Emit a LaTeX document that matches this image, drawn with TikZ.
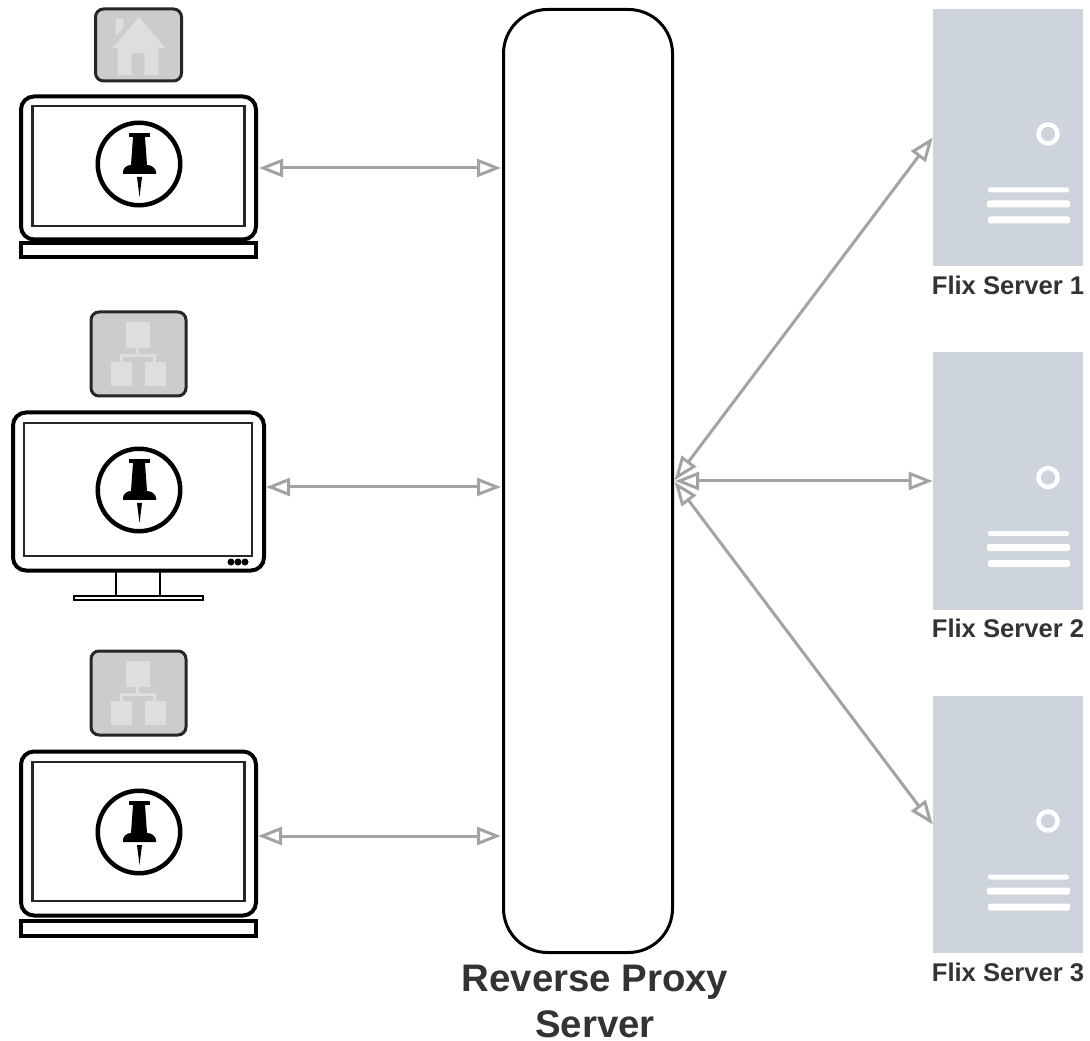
\documentclass[tikz,border=0pt]{standalone}
\usepackage{fontspec}
\setmainfont{Liberation Sans}
\usetikzlibrary{arrows.meta}
\definecolor{linkgray}{HTML}{A3A3A3}
\definecolor{badgegray}{HTML}{CCCCCC}
\definecolor{glyphgray}{HTML}{DEDEDE}
\definecolor{servergray}{HTML}{CED4DB}
\definecolor{labelgray}{HTML}{333333}
\def\px{0.75pt}
\tikzset{
  frame/.style={draw=black, fill=white, line width=4*\px, rounded corners=13*\px, inner sep=0pt},
  screen/.style={draw=black!85, line width=2.5*\px, inner sep=0pt},
  keyboard/.style={draw=black, fill=white, line width=3.5*\px, inner sep=0pt},
  badge/.style={draw=black!85, fill=badgegray, line width=3*\px, rounded corners=8*\px, inner sep=0pt},
  dial/.style={draw=black, fill=white, circle, line width=4.5*\px, minimum size=82.5*\px, inner sep=0pt},
  proxybox/.style={draw=black, fill=white, line width=3*\px, rounded corners=44*\px, minimum width=169*\px, minimum height=943*\px, inner sep=0pt},
  serverbox/.style={fill=servergray, minimum width=150*\px, minimum height=257*\px, inner sep=0pt},
  servername/.style={text=labelgray, font=\fontsize{19.2}{23}\selectfont\bfseries, inner sep=0pt},
  link/.style={draw=linkgray, line width=3*\px, {Triangle[open,length=18pt,width=13.5pt]}-{Triangle[open,length=18pt,width=13.5pt]}},
  pics/pinicon/.style={code={
    \fill (-10,-31) rectangle (11,-27);
    \fill (-6,-27) -- (6,-27) -- (8,1) -- (-8,1) -- cycle;
    \fill (-16,10) -- (-16,8) .. controls (-16,4) and (-12,1) .. (-8,1) -- (8,1) .. controls (12,1) and (17,4) .. (17,8) -- (17,10) -- cycle;
    \fill (-2,13) -- (3,13) -- (0.5,33) -- cycle;
  }},
  pics/homeicon/.style={code={
    \fill[glyphgray] (-23,-26) -- (-15,-26) -- (-15,-17) -- (-23,-9) -- cycle;
    \fill[glyphgray] (0.5,-28) -- (27,3) -- (20,3) -- (20,30) -- (6,30) -- (6,8) -- (-7,8) -- (-7,30) -- (-21,30) -- (-21,3) -- (-26,3) -- cycle;
  }},
  pics/treeicon/.style={code={
    \fill[glyphgray] (-13,-32) rectangle (11,-6);
    \fill[glyphgray] (-28,8) rectangle (-7,32);
    \fill[glyphgray] (6,8) rectangle (27,32);
    \draw[glyphgray, line width=3*\px] (-1,-6) -- (-1,1) (-17,8) -- (-17,1.5) -- (16,1.5) -- (16,8);
  }},
}
\begin{document}
\begin{tikzpicture}[x=0.75pt, y=-0.75pt]
  \useasboundingbox (0,0) rectangle (1090,1041);

  % top laptop
  \node[badge, minimum width=86*\px, minimum height=72*\px] (tag1) at (138.5,45) {};
  \pic at (tag1.center) {homeicon};
  \node[frame, minimum width=235*\px, minimum height=143*\px] (lap1) at (138.5,168) {};
  \node[screen, minimum width=212*\px, minimum height=120*\px] (scr1) at (138.5,166) {};
  \node[keyboard, minimum width=235*\px, minimum height=14*\px] (key1) at (138.5,250) {};
  \node[dial] (pin1) at (139,164) {};
  \pic at (pin1.center) {pinicon};

  % monitor
  \node[badge, minimum width=95*\px, minimum height=84*\px] (tag2) at (138.5,354) {};
  \pic at (tag2.center) {treeicon};
  \node[keyboard, line width=2*\px, minimum width=129*\px, minimum height=4*\px] (foot2) at (138.5,597.5) {};
  \draw[line width=1.5*\px] (116,571) -- (116,596) (160,571) -- (160,596);
  \node[frame, minimum width=251*\px, minimum height=158*\px] (mon2) at (138.5,491.5) {};
  \node[screen, minimum width=228*\px, minimum height=133*\px] (scr2) at (138,489.5) {};
  \foreach \dotx in {231,238,245}
    \fill (\dotx,562) circle (3.5);
  \node[dial] (pin2) at (139,490) {};
  \pic at (pin2.center) {pinicon};

  % bottom laptop
  \node[badge, minimum width=95*\px, minimum height=84*\px] (tag3) at (138.5,693) {};
  \pic at (tag3.center) {treeicon};
  \node[frame, minimum width=235*\px, minimum height=164*\px] (lap3) at (138.5,833.5) {};
  \node[screen, minimum width=212*\px, minimum height=139*\px] (scr3) at (138.5,831.5) {};
  \node[keyboard, minimum width=235*\px, minimum height=15*\px] (key3) at (138.5,928.5) {};
  \node[dial] (pin3) at (139,832) {};
  \pic at (pin3.center) {pinicon};

  % proxy
  \node[proxybox] (proxy) at (588,481) {};
  \node[text=labelgray, font=\fontsize{28.8}{34.5}\selectfont\bfseries, align=center, inner sep=0pt] (proxyname) at (595,1001) {Reverse Proxy\\Server};

  % servers
  \foreach \n/\ypos in {1/137.5, 2/481, 3/824.5} {
    \node[serverbox] (srv\n) at (1008,\ypos) {};
    \node[servername, below=6.75pt] (name\n) at (srv\n.south) {Flix Server \n};
    \draw[white, line width=4.5*\px] (1048,\ypos-3.5) circle (9.5);
    \fill[white, rounded corners=1.5] (988,\ypos+50) rectangle (1069,\ypos+55);
    \fill[white, rounded corners=1.5] (987,\ypos+63) rectangle (1070,\ypos+70);
    \fill[white, rounded corners=1.5] (988,\ypos+79) rectangle (1070,\ypos+86);
  }

  % links
  \coordinate (hub) at (proxy.east);
  \coordinate (port1) at (proxy.west |- lap1.east);
  \coordinate (mon2out) at (265,487);
  \coordinate (port2) at (proxy.west |- mon2out);
  \coordinate (lap3out) at (257,836);
  \coordinate (port3) at (proxy.west |- lap3out);
  \draw[link, shorten >=1*\px, shorten <=1*\px] (lap1.east) -- (port1);
  \draw[link, shorten >=1*\px, shorten <=1*\px] (mon2out) -- (port2);
  \draw[link, shorten >=1*\px, shorten <=1*\px] (lap3out) -- (port3);
  \draw[link, shorten >=0*\px, shorten <=1*\px] (hub) -- (srv1.west);
  \draw[link, shorten >=0*\px, shorten <=1*\px] (hub) -- (srv2.west);
  \draw[link, shorten >=0*\px, shorten <=1*\px] (hub) -- (srv3.west);
\end{tikzpicture}
\end{document}
